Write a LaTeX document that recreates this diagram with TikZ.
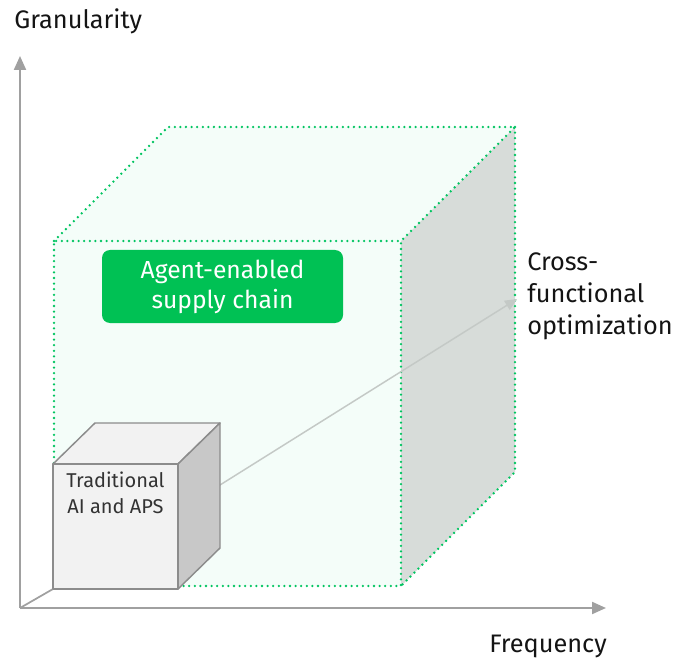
\documentclass[tikz,border=0pt]{standalone}
\usepackage{fontspec}
\setmainfont{Fira Sans}
\usetikzlibrary{arrows.meta}
\definecolor{bcggreen}{RGB}{0,193,84}
\definecolor{dotgreen}{RGB}{0,196,96}
\definecolor{mint}{RGB}{244,253,249}
\definecolor{sidegray}{RGB}{215,220,217}
\definecolor{axisgray}{RGB}{160,160,160}
\definecolor{edgegray}{RGB}{140,140,140}
\definecolor{cubelight}{RGB}{242,242,242}
\definecolor{cubeside}{RGB}{200,200,200}
\definecolor{trendgray}{RGB}{196,201,198}
\tikzset{
  axisline/.style={draw=axisgray, line width=1.6pt, -{Triangle[length=10.5pt,width=9pt]}},
  dotedge/.style={draw=dotgreen, line width=1.9pt, line cap=round, dash pattern=on 0pt off 4.2pt},
  cubeedge/.style={draw=edgegray, line width=1.1pt, line join=round},
  trendline/.style={draw=trendgray, line width=1.1pt, -{Triangle[length=9pt,width=8pt]}},
  axislabel/.style={inner sep=0pt, text=black!92, font=\fontsize{19}{24}\selectfont},
  greenbox/.style={fill=bcggreen, rounded corners=6pt, text=white, align=center,
    minimum width=180.75pt, minimum height=54.75pt, inner sep=0pt,
    font=\fontsize{18.5}{22.5}\selectfont},
  cubetext/.style={inner sep=0pt, text=black!80, align=center,
    font=\fontsize{15}{19}\selectfont}
}
\begin{document}
\begin{tikzpicture}[x=0.75pt,y=-0.75pt]
\useasboundingbox (0,0) rectangle (674,659);

% axes
\coordinate (origin) at (20,608);
\coordinate (ytop) at (20,56);
\coordinate (xend) at (606,608);
\draw[axisline] (origin) -- (ytop);
\draw[axisline] (origin) -- (xend);

% large cube: faces
\coordinate (F1) at (54,241);
\coordinate (F2) at (401,241);
\coordinate (F3) at (401,586);
\coordinate (F4) at (54,586);
\coordinate (B1) at (168,127);
\coordinate (B2) at (515,127);
\coordinate (B3) at (515,472);
\fill[mint] (F1) -- (F2) -- (F3) -- (F4) -- cycle;
\fill[mint] (F1) -- (B1) -- (B2) -- (F2) -- cycle;
\fill[sidegray] (F2) -- (B2) -- (B3) -- (F3) -- cycle;

% large cube: dotted edges
\draw[dotedge] (F4) -- (F1) -- (F2) -- (F3) -- cycle;
\draw[dotedge] (F1) -- (B1) -- (B2) -- (F2);
\draw[dotedge] (B2) -- (B3) -- (F3);

% small cube corners
\coordinate (s1) at (53,464);
\coordinate (s2) at (178,464);
\coordinate (s3) at (178,589);
\coordinate (s4) at (53,589);
\coordinate (t1) at (95,423);
\coordinate (t2) at (220,423);
\coordinate (t3) at (220,548);

% depth axis stub
\draw[draw=axisgray, line width=1.3pt] (origin) -- (s4);

% trend arrow
\coordinate (trendstart) at (212,490);
\coordinate (trendend) at (517,299);
\draw[trendline] (trendstart) -- (trendend);

% small cube
\filldraw[cubeedge, fill=cubelight] (s1) -- (t1) -- (t2) -- (s2) -- cycle;
\filldraw[cubeedge, fill=cubeside] (s2) -- (t2) -- (t3) -- (s3) -- cycle;
\filldraw[cubeedge, fill=cubelight] (s1) -- (s2) -- (s3) -- (s4) -- cycle;
\node[cubetext, anchor=north] (trad) at (115.5,472) {Traditional\\AI and APS};

% label box
\node[greenbox] (agent) at (222.5,286.5) {Agent-enabled\\supply chain};

% axis labels
\node[axislabel, anchor=base west] (gran) at (14,29) {Granularity};
\node[axislabel, anchor=base west] (freq) at (489,652) {Frequency};
\node[axislabel, anchor=north west, align=left] (cross) at (527,252) {Cross-\\functional\\optimization};
\end{tikzpicture}
\end{document}
